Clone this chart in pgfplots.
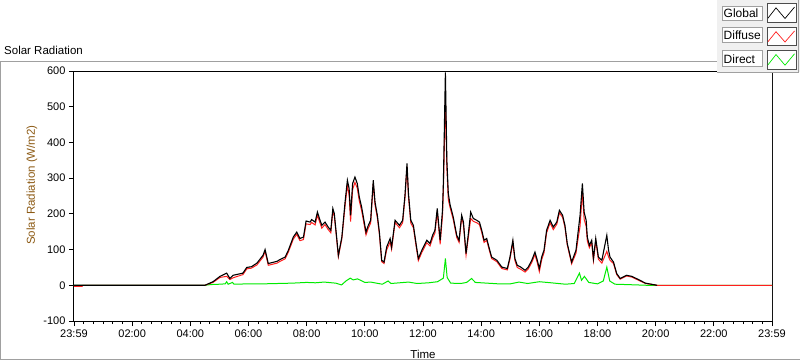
\documentclass[border=0pt]{standalone}
\usepackage{pgfplots}
\pgfplotsset{compat=1.18}
\usepackage{pgfplotstable}
\usepackage{fontspec}
\setmainfont{Liberation Sans}
\definecolor{framegray}{RGB}{160,160,160}
\definecolor{ylab}{RGB}{140,90,20}
\definecolor{difred}{RGB}{255,30,30}
\definecolor{dirgreen}{RGB}{0,235,0}
\definecolor{panel}{RGB}{240,240,240}

\pgfplotstableread{
h g f
0 0 -3
0.28 0 -3
0.3 0 0
4.5 0 0
4.78 10 8
5.02 25 22
5.25 34 25
5.36 19 16
5.47 28 21
5.81 34 30
5.94 50 46
6.1 52 48
6.29 62 57
6.50 84 79
6.57 100 95
6.68 61 56
6.98 67 62
7.08 72 67
7.26 79 74
7.37 98 93
7.54 135 129
7.66 149 143
7.77 131 125
7.89 135 128
7.98 180 172
8.12 177 170
8.17 184 176
8.29 177 169
8.37 205 196
8.44 187 179
8.52 168 160
8.63 177 170
8.74 163 156
8.83 154 147
8.90 215 206
8.95 201 194
9.03 135 130
9.09 84 80
9.21 135 130
9.32 233 222
9.40 294 280
9.46 271 252
9.51 196 178
9.58 285 268
9.66 303 288
9.74 285 272
9.81 247 236
9.89 219 209
9.95 191 182
10.04 149 141
10.12 168 160
10.20 182 174
10.29 294 284
10.35 233 225
10.43 196 189
10.50 149 143
10.58 70 66
10.66 65 61
10.75 107 99
10.87 131 121
10.92 107 101
11.04 182 176
11.19 168 161
11.30 182 175
11.38 252 244
11.45 341 332
11.50 257 248
11.58 182 174
11.67 168 161
11.76 117 111
11.84 75 69
11.96 98 92
12.13 126 119
12.24 117 110
12.33 140 132
12.41 154 146
12.49 215 206
12.59 126 115
12.67 210 195
12.70 285 265
12.77 596 520
12.82 350 330
12.87 257 240
12.93 226 218
13.04 191 184
13.16 140 134
13.24 126 120
13.33 196 190
13.39 177 171
13.48 89 84
13.56 145 135
13.64 205 187
13.73 187 179
13.85 182 175
13.94 177 170
14.02 154 148
14.10 126 120
14.19 131 126
14.28 103 98
14.36 79 75
14.54 70 66
14.71 51 47
14.90 47 43
14.99 79 74
15.09 126 119
15.16 75 69
15.24 56 50
15.36 51 45
15.51 42 37
15.62 51 46
15.74 70 64
15.85 93 86
15.93 70 63
16.00 47 38
16.08 79 71
16.16 98 91
16.25 154 147
16.37 182 175
16.48 163 156
16.60 177 171
16.69 210 203
16.80 196 190
16.88 168 163
16.96 117 113
17.11 65 60
17.26 98 90
17.34 154 135
17.40 196 165
17.48 285 262
17.54 205 185
17.61 182 165
17.65 135 124
17.72 112 105
17.80 126 120
17.86 75 69
17.94 131 124
18.03 79 73
18.15 70 62
18.32 140 95
18.38 98 80
18.43 79 70
18.55 65 61
18.66 33 30
18.78 19 17
19.00 28 26
19.18 25 23
19.41 16 14
19.65 6 5
20.05 0 0
24 0 0
}\radtable

\pgfplotstableread{
h d
0 0
4.5 0
4.7 2
5.0 3
5.2 4
5.25 10
5.3 3
5.45 8
5.5 3
6.0 4
6.5 4
7.0 5
7.5 6
8.0 8
8.3 7
8.6 9
9.0 6
9.2 1
9.35 12
9.5 20
9.6 15
9.75 18
10.0 8
10.2 9
10.4 6
10.6 3
10.8 12
10.9 5
11.2 7
11.5 9
11.8 5
12.2 7
12.5 10
12.7 20
12.77 75
12.83 22
12.95 6
13.3 5
13.5 8
13.67 19
13.8 8
14.2 6
14.6 4
15.0 4
15.3 9
15.6 5
16.0 10
16.4 7
16.9 3
17.2 5
17.38 34
17.45 14
17.55 25
17.7 8
18.0 4
18.2 12
18.32 51
18.42 12
18.6 3
19.0 2
19.7 0
24 0
}\directtable

\begin{document}
\begin{tikzpicture}[font=\fontsize{11}{13}\selectfont]
% outer frame
\draw[framegray, line width=1pt] (740pt,259pt) -- (-73.5pt,259pt) -- (-73.5pt,-38pt) -- (740pt,-38pt);
\node[anchor=base west, inner sep=0pt, font=\fontsize{11.5}{13}\selectfont] at (-70pt,266pt) {Solar Radiation};
\begin{axis}[
  at={(0pt,0pt)}, anchor=south west,
  scale only axis, width=698pt, height=250pt,
  xmin=0, xmax=24, ymin=-100, ymax=600,
  xtick={0,2,...,24},
  xticklabels={23:59,02:00,04:00,06:00,08:00,10:00,12:00,14:00,16:00,18:00,20:00,22:00,23:59},
  minor x tick num=5,
  ytick={-100,0,...,600},
  tick align=outside, tick pos=left,
  major tick length=5pt, minor tick length=3pt,
  every tick/.style={black, line width=0.8pt},
  axis line style={black, line width=1pt},
  /pgf/number format/assume math mode=true,
  tick label style={font=\fontsize{11}{13}\selectfont, text=black},
  xlabel={Time},
  xlabel style={at={(axis description cs:0.5,-0.132)}, anchor=center, font=\fontsize{11.5}{13}\selectfont},
  ylabel={Solar Radiation (W/m2)},
  ylabel style={at={(axis description cs:-0.0602,0.544)}, anchor=center, font=\fontsize{11.5}{13}\selectfont, text=ylab},
]
\addplot[dirgreen, line width=1pt] table[x=h,y=d]{\directtable};
\addplot[difred, line width=1pt] table[x=h,y=f]{\radtable};
\addplot[black, line width=1.1pt, restrict x to domain=0:20.1] table[x=h,y=g]{\radtable};
\draw[framegray, line width=1pt] (rel axis cs:1,0) -- (rel axis cs:1,1);
\end{axis}
% legend panel
\fill[panel] (643pt,248.7pt) rectangle (726pt,322pt);
\draw[framegray, line width=1pt] (643pt,248.7pt) -- (724.5pt,248.7pt) -- (724.5pt,322pt);
% rows
\foreach \yb/\yt/\syb/\syt/\bl/\txt/\col in {
  300.3/315/298.7/317.7/303.7/Global/black,
  278.3/293.7/275.3/293.7/281/Diffuse/difred,
  254.3/271/252/271/257/Direct/dirgreen}{
  \draw[framegray, fill=white, line width=0.8pt] (648pt,\yb pt) rectangle (688pt,\yt pt);
  \node[anchor=base west, inner sep=0pt, font=\fontsize{12}{14}\selectfont] at (649.5pt,\bl pt) {\txt};
  \draw[black!70, fill=white, line width=0.8pt] (693pt,\syb pt) rectangle (722pt,\syt pt);
  \draw[\col, line width=0.7pt] (694pt,{(\syb+0.22*(\syt-\syb))*1pt}) -- (702pt,{(\syb+0.76*(\syt-\syb))*1pt}) -- (711pt,{(\syb+0.2*(\syt-\syb))*1pt}) -- (720.5pt,{(\syb+0.8*(\syt-\syb))*1pt});
}
\pgfresetboundingbox
\path[use as bounding box] (-74pt,-40pt) rectangle (726pt,321pt);
\end{tikzpicture}
\end{document}
